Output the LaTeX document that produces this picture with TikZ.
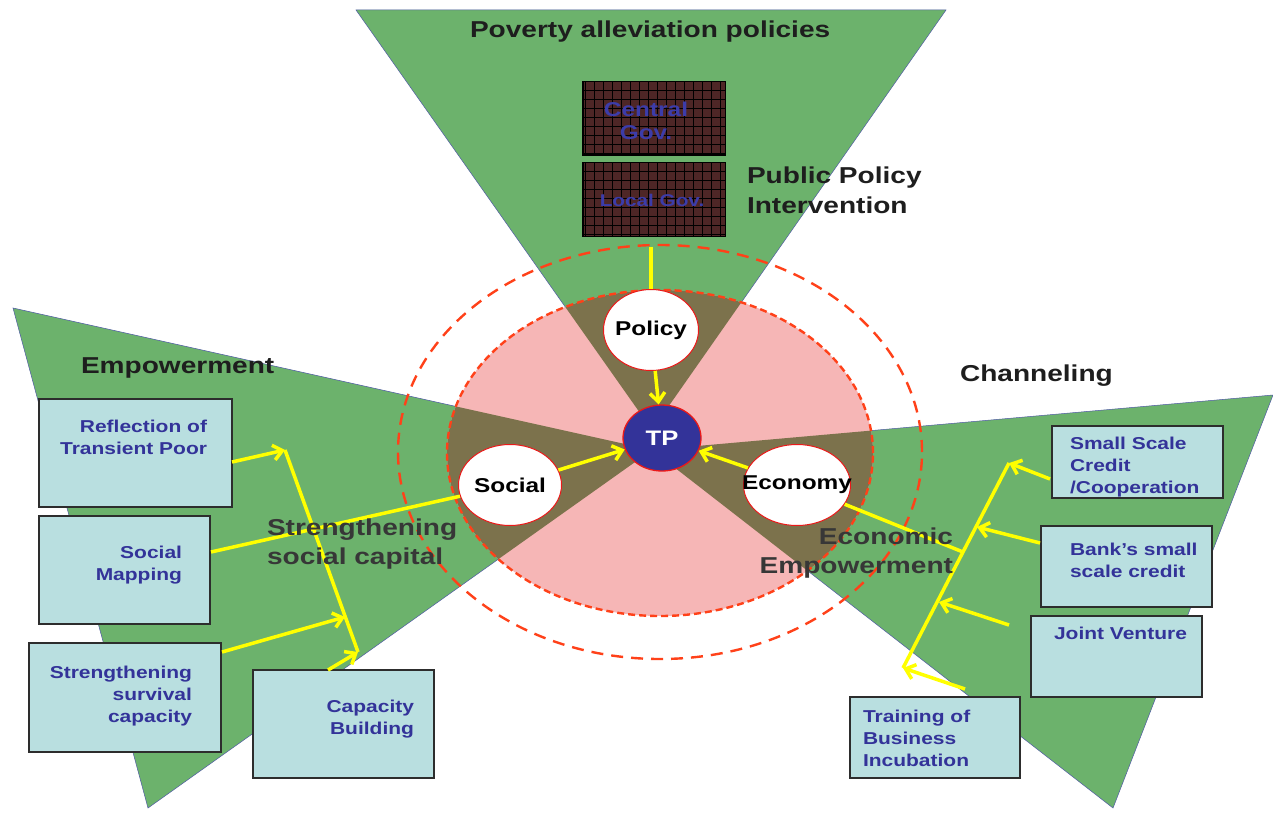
\documentclass[tikz,border=0pt]{standalone}
\usepackage{fontspec}
\setmainfont{Liberation Sans}[FakeStretch=1.22]
\usetikzlibrary{shapes.geometric,arrows.meta}
\definecolor{conegreen}{RGB}{108,178,108}
\definecolor{conebd}{RGB}{80,90,165}
\definecolor{pinkfill}{RGB}{246,182,182}
\definecolor{overlapc}{RGB}{124,114,76}
\definecolor{redbd}{RGB}{235,25,25}
\definecolor{dashred}{RGB}{255,65,25}
\definecolor{tpblue}{RGB}{51,51,153}
\definecolor{boxfill}{RGB}{185,223,224}
\definecolor{boxbd}{RGB}{45,45,45}
\definecolor{boxtxt}{RGB}{51,51,153}
\definecolor{govfill}{RGB}{78,38,38}
\definecolor{govtxt}{RGB}{60,60,170}
\definecolor{headtxt}{RGB}{30,30,30}
\definecolor{darktxt}{RGB}{55,55,55}
\definecolor{ylw}{RGB}{255,255,0}
\newcommand\rlines[1]{\vtop{\halign{\hfil##\cr#1\crcr}}}
\newcommand\llines[1]{\vtop{\halign{##\hfil\cr#1\crcr}}}
\newcommand\zw[1]{\makebox[0pt]{#1}}
\begin{document}
\begin{tikzpicture}[x=1pt,y=-1pt,
  cone/.style={fill=conegreen, draw=conebd, line width=0.5pt},
  ovl/.style={fill=overlapc},
  boxnode/.style={draw=boxbd, line width=1.2pt, fill=boxfill, inner sep=0pt, rectangle},
  govnode/.style={draw=black, line width=1pt, fill=govfill, inner sep=0pt, rectangle},
  ell/.style={ellipse, draw=redbd, line width=1pt, fill=white, inner sep=0pt, font=\bfseries\fontsize{20}{22}\selectfont, text=black},
  tpnode/.style={ellipse, draw=redbd, line width=1.3pt, fill=tpblue, inner sep=0pt, font=\bfseries\fontsize{21}{23}\selectfont, text=white},
  txt/.style={inner sep=0pt, outer sep=0pt},
  head/.style={txt, text=headtxt, font=\bfseries\fontsize{23}{30}\selectfont},
  midhead/.style={txt, text=darktxt, font=\bfseries\fontsize{23}{29}\selectfont},
  boxtext/.style={txt, text=boxtxt, font=\bfseries\fontsize{17.2}{22}\selectfont},
  yl/.style={draw=ylw, line width=3.5pt},
  yarr/.style={yl, -{Straight Barb[length=9pt,width=15pt]}},
  outerdash/.style={draw=dashred, line width=2.4pt, dash pattern=on 12pt off 8pt},
  pinkdash/.style={draw=dashred, line width=2.4pt, dash pattern=on 7pt off 4pt}
]
\useasboundingbox (0,0) rectangle (1273,813);
\fill[white] (0,0) rectangle (1273,813);

% cones
\path[cone] (356,10) -- (946,10) -- (652,430) -- cycle;
\path[cone] (13,308) -- (652,450) -- (148,808) -- cycle;
\path[cone] (1273,395) -- (1113,808) -- (652,450) -- cycle;

% inner pink ellipse with overlap
\fill[pinkfill] (660,453) ellipse [x radius=213pt, y radius=163pt];
\begin{scope}
  \clip (660,453) ellipse [x radius=213pt, y radius=163pt];
  \fill[ovl] (356,10) -- (946,10) -- (652,430) -- cycle;
  \fill[ovl] (13,308) -- (652,450) -- (148,808) -- cycle;
  \fill[ovl] (1273,395) -- (1113,808) -- (652,450) -- cycle;
\end{scope}
\draw[pinkdash] (660,453) ellipse [x radius=213pt, y radius=163pt];
\draw[outerdash] (660,452) ellipse [x radius=262pt, y radius=207pt];

% government boxes
\node[govnode, minimum width=142pt, minimum height=73pt] (central) at (654,118.5) {};
\node[govnode, minimum width=142pt, minimum height=73pt] (local) at (654,199.5) {};
\draw[black, line width=0.5pt] (central.south west) grid[xstep=9pt,ystep=9pt] (central.north east);
\draw[black, line width=0.5pt] (local.south west) grid[xstep=9pt,ystep=9pt] (local.north east);
\draw[black, line width=1pt] (central.south west) rectangle (central.north east);
\draw[black, line width=1pt] (local.south west) rectangle (local.north east);
\node[txt, text=govtxt, font=\bfseries\fontsize{20}{23}\selectfont, align=center] (centraltxt) at (646,121) {Central\\Gov.};
\node[txt, text=govtxt, font=\bfseries\fontsize{17}{20}\selectfont] (localtxt) at (652,200) {Local Gov.};

% headings
\node[head, anchor=base west] (poverty) at (470,38) {Poverty alleviation policies};
\node[head, anchor=base west] (ppi) at (747,183) {\llines{Public Policy\cr Intervention}};
\node[head, anchor=base west] (empw) at (81,373) {Empowerment};
\node[head, anchor=base west] (chan) at (960,381) {Channeling};

% boxes left
\node[boxnode, minimum width=193pt, minimum height=108pt] (refl) at (135.5,453) {};
\node[boxnode, minimum width=171pt, minimum height=108pt] (smap) at (124.5,570) {};
\node[boxnode, minimum width=192pt, minimum height=109pt] (surv) at (125,697.5) {};
\node[boxnode, minimum width=181pt, minimum height=108pt] (capb) at (343.5,724) {};
% boxes right
\node[boxnode, minimum width=171pt, minimum height=72pt] (small) at (1137.5,462) {};
\node[boxnode, minimum width=171pt, minimum height=81pt] (bank) at (1126.5,566.5) {};
\node[boxnode, minimum width=171pt, minimum height=81pt] (joint) at (1116.5,656.5) {};
\node[boxnode, minimum width=170pt, minimum height=81pt] (train) at (935,737.5) {};

% box texts
\node[boxtext, anchor=base east] (refltxt) at (207,432) {\rlines{Reflection of\cr Transient Poor}};
\node[boxtext, anchor=base east] (smaptxt) at (182,558) {\rlines{Social\cr Mapping}};
\node[boxtext, anchor=base east] (survtxt) at (192,678) {\rlines{Strengthening\cr survival\cr capacity}};
\node[boxtext, anchor=base east] (capbtxt) at (414,712) {\rlines{Capacity\cr Building}};
\node[boxtext, anchor=base west] (smalltxt) at (1070,449) {\llines{Small Scale\cr Credit\cr /Cooperation}};
\node[boxtext, anchor=base west] (banktxt) at (1070,555) {\llines{Bank’s small\cr scale credit}};
\node[boxtext, anchor=base west] (jointtxt) at (1054,639) {Joint Venture};
\node[boxtext, anchor=base west] (traintxt) at (863,722) {\llines{Training of\cr Business\cr Incubation}};

% connector coordinates
\coordinate (smapout) at (211,552);
\coordinate (reflout) at (232,462);
\coordinate (survout) at (222,652);
\coordinate (capbout) at (328,670);
\coordinate (spL1) at (285,450);
\coordinate (spL2) at (358,652);
\coordinate (spLm) at (345,617);
\coordinate (smallout) at (1050,479);
\coordinate (bankout) at (1040,543);
\coordinate (jointout) at (1009,625);
\coordinate (trainout) at (965,689);
\coordinate (spR1) at (1009,463);
\coordinate (spR2) at (903,668);
\coordinate (spRa) at (977,527);
\coordinate (spRb) at (939,602);
\coordinate (spRm) at (963,552);

% central ellipses
\node[ell, minimum width=95pt, minimum height=81pt] (policy) at (651,330) {\zw{Policy}};
\node[ell, minimum width=103pt, minimum height=81pt] (social) at (510,485) {\zw{Social}};
\node[ell, minimum width=107pt, minimum height=81pt] (econ) at (797,485) {\zw{Economy}};
\node[tpnode, minimum width=78pt, minimum height=66pt] (tp) at (662,438) {\zw{TP}};

% yellow connectors
\draw[yl, shorten <=10pt] (local.south -| policy.north) -- (policy.north);
\draw[yarr] (policy) -- (tp);
\draw[yarr] (social) -- (tp);
\draw[yarr] (econ) -- (tp);
\draw[yl] (smapout) -- (social);
\draw[yl] (spL1) -- (spL2);
\draw[yarr] (reflout) -- (spL1);
\draw[yarr] (survout) -- (spLm);
\draw[yarr] (capbout) -- (spL2);
\draw[yl] (spR1) -- (spR2);
\draw[yl] (econ) -- (spRm);
\draw[yarr] (smallout) -- (spR1);
\draw[yarr] (bankout) -- (spRa);
\draw[yarr] (jointout) -- (spRb);
\draw[yarr] (trainout) -- (spR2);

% mid labels
\node[midhead, anchor=base west] (strength) at (267,535) {\llines{Strengthening\cr social capital}};
\node[midhead, anchor=base east] (econemp) at (953,544) {\rlines{Economic\cr Empowerment}};
\end{tikzpicture}
\end{document}
